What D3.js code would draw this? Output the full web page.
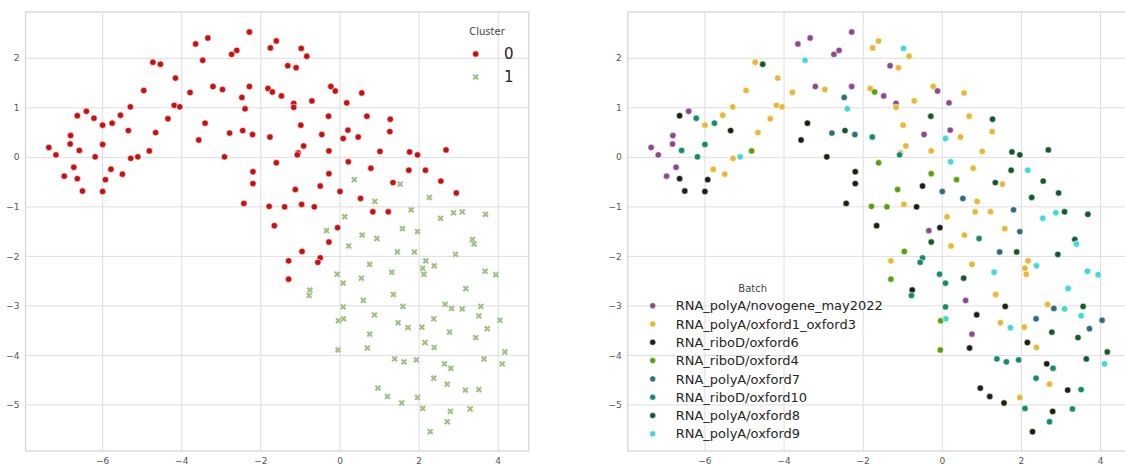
<!DOCTYPE html>
<html>
<head>
<meta charset="utf-8">
<script src="https://cdn.jsdelivr.net/npm/d3@7"></script>
<style>
  body { margin: 0; background: #fff; }
  text { font-family: "DejaVu Sans", sans-serif; }
</style>
</head>
<body>
<div id="umap-panels"></div>
<script>

const WIDTH = 1125, HEIGHT = 464;
const PANEL = { TOP: 12, BOTTOM: 451, WIDTH: 503.2 };
const PANEL_X = [25.5, 627.8];   // left edge of each subplot

const X_DOMAIN = [-7.95, 4.77];
const Y_DOMAIN = [-5.93, 2.935];

const xTicks = [-6, -4, -2, 0, 2, 4];
const yTicks = [2, 1, 0, -1, -2, -3, -4, -5];

const clusterNames = ["0", "1"];
const clusterColors = ["#c81010", "#9dbf84"];

const batchNames = [
    "RNA_polyA/novogene_may2022",
    "RNA_polyA/oxford1_oxford3",
    "RNA_riboD/oxford6",
    "RNA_riboD/oxford4",
    "RNA_polyA/oxford7",
    "RNA_riboD/oxford10",
    "RNA_polyA/oxford8",
    "RNA_polyA/oxford9"
];
const batchColors = ["#8b4a8b", "#e8b834", "#1e1e12", "#5b9f0e", "#2b6f7d", "#168a6c", "#15592b", "#40d9d3"];

// [UMAP1, UMAP2, batch index]  -- cluster 0
const cluster0 = [
    [-7.36, 0.20, 0], [-7.18, 0.05, 0], [-6.97, -0.38, 0], [-6.81, 0.44, 0], [-6.82, 0.27, 0],
    [-6.73, -0.20, 0], [-6.64, 0.84, 2], [-6.64, -0.43, 2], [-6.59, 0.14, 5], [-6.51, -0.68, 2],
    [-6.41, 0.93, 0], [-6.22, 0.79, 5], [-6.19, 0.01, 5], [-6.00, 0.65, 1], [-6.00, 0.26, 5],
    [-6.00, -0.69, 2], [-5.93, -0.45, 2], [-5.79, -0.24, 1], [-5.76, 0.69, 5], [-5.55, 0.85, 1],
    [-5.50, -0.34, 1], [-5.35, 0.54, 2], [-5.30, 1.02, 1], [-5.29, -0.02, 1], [-5.11, 0.01, 7],
    [-4.96, 1.35, 1], [-4.82, 0.13, 3], [-4.73, 1.92, 1], [-4.66, 0.50, 1], [-4.54, 1.88, 6],
    [-4.35, 0.78, 1], [-4.19, 1.05, 1], [-4.16, 1.60, 1], [-4.05, 1.02, 1], [-3.79, 1.31, 1],
    [-3.65, 2.29, 0], [-3.57, 0.35, 2], [-3.47, 1.96, 7], [-3.41, 0.69, 2], [-3.34, 2.41, 0],
    [-3.21, 1.43, 0], [-2.97, 1.37, 1], [-2.92, 0.01, 2], [-2.79, 0.49, 4], [-2.74, 2.08, 0],
    [-2.61, 2.16, 0], [-2.48, 1.21, 4], [-2.46, 0.54, 6], [-2.43, -0.93, 2], [-2.40, 0.98, 7],
    [-2.29, 2.53, 0], [-2.29, 1.43, 0], [-2.21, 0.46, 4], [-2.20, -0.29, 2], [-2.20, -0.53, 2],
    [-1.76, 2.21, 1], [-1.61, 2.35, 1], [-0.98, 2.20, 7], [-0.84, 2.04, 1], [-1.32, 1.85, 0],
    [-1.11, 1.81, 1], [-1.82, 1.39, 1], [-1.71, 1.32, 3], [-1.48, 1.24, 0], [-1.17, 1.09, 0],
    [-1.17, 1.01, 1], [-0.71, 1.14, 1], [-0.23, 1.43, 1], [-0.12, 1.34, 0], [0.17, 1.10, 0],
    [0.55, 1.30, 1], [-0.29, 0.83, 6], [0.68, 0.83, 1], [1.27, 0.77, 6], [-0.99, 0.65, 1],
    [-1.77, 0.41, 5], [-0.46, 0.46, 0], [0.20, 0.55, 0], [0.08, 0.38, 7], [0.46, 0.41, 1],
    [1.26, 0.52, 1], [-0.92, 0.23, 1], [-1.06, 0.09, 1], [-1.08, 0.05, 5], [-0.28, 0.13, 1],
    [1.01, 0.12, 1], [1.76, 0.11, 6], [1.96, 0.05, 6], [2.68, 0.15, 6], [-1.61, -0.11, 3],
    [0.21, -0.09, 7], [0.78, -0.22, 1], [1.74, -0.26, 6], [2.16, -0.26, 7], [-0.28, -0.33, 3],
    [1.34, -0.51, 6], [2.55, -0.48, 6], [-0.50, -0.58, 2], [-1.13, -0.65, 3], [0.00, -0.69, 4],
    [2.94, -0.72, 6], [0.52, -0.83, 4], [-1.79, -0.99, 3], [-1.40, -1.00, 3], [-0.97, -0.95, 1],
    [-0.65, -1.00, 2], [0.83, -1.10, 1], [1.22, -1.10, 1], [-1.66, -1.38, 2], [-0.06, -1.42, 2],
    [-0.28, -1.71, 6], [-0.96, -1.90, 3], [-1.30, -2.09, 1], [-0.50, -2.03, 5], [-0.56, -2.12, 5],
    [-1.30, -2.46, 3]
];

// [UMAP1, UMAP2, batch index]  -- cluster 1
const cluster1 = [
    [0.36, -0.45, 3], [1.52, -0.54, 1], [2.26, -0.81, 6], [0.88, -0.89, 1], [1.80, -1.06, 4],
    [0.12, -1.20, 1], [2.54, -1.23, 7], [2.87, -1.12, 7], [3.09, -1.10, 6], [3.68, -1.15, 6],
    [-0.34, -1.48, 0], [1.58, -1.44, 1], [0.56, -1.57, 1], [1.96, -1.50, 4], [0.93, -1.64, 5],
    [3.35, -1.66, 6], [3.39, -1.75, 7], [0.22, -1.79, 1], [1.45, -1.91, 4], [1.88, -1.91, 6],
    [2.92, -1.96, 6], [0.75, -2.16, 1], [2.17, -2.09, 1], [2.09, -2.24, 1], [2.12, -2.36, 1],
    [2.38, -2.19, 7], [1.31, -2.32, 7], [3.67, -2.30, 7], [3.94, -2.37, 7], [-0.07, -2.36, 5],
    [0.08, -2.54, 5], [0.54, -2.44, 6], [-0.76, -2.68, 2], [-0.78, -2.79, 5], [3.18, -2.65, 7],
    [1.35, -2.77, 1], [0.59, -2.89, 0], [0.08, -3.02, 5], [1.59, -3.01, 2], [2.66, -2.97, 1],
    [2.82, -3.05, 4], [3.09, -3.06, 7], [3.56, -3.01, 6], [0.87, -3.18, 2], [3.51, -3.20, 7],
    [-0.04, -3.30, 3], [0.09, -3.26, 7], [1.47, -3.34, 1], [1.72, -3.44, 7], [2.07, -3.43, 1],
    [2.37, -3.26, 4], [4.04, -3.29, 4], [2.77, -3.53, 6], [3.72, -3.46, 4], [0.75, -3.57, 0],
    [3.43, -3.64, 6], [2.15, -3.74, 2], [2.38, -3.84, 1], [0.69, -3.85, 2], [-0.05, -3.89, 3],
    [4.17, -3.93, 6], [3.64, -4.07, 6], [4.10, -4.17, 7], [1.38, -4.07, 5], [1.62, -4.13, 5],
    [1.93, -4.09, 5], [2.64, -4.17, 2], [2.80, -4.26, 5], [2.37, -4.46, 5], [0.96, -4.66, 2],
    [2.71, -4.58, 1], [3.17, -4.70, 2], [3.51, -4.69, 5], [1.20, -4.83, 2], [1.96, -4.85, 1],
    [1.56, -4.96, 2], [2.09, -5.07, 5], [2.79, -5.13, 2], [3.29, -5.08, 5], [2.71, -5.34, 5],
    [2.28, -5.54, 2]
];


const svg = d3.select("#umap-panels")
    .append("svg")
    .attr("width", WIDTH)
    .attr("height", HEIGHT);

svg.append("rect").attr("width", WIDTH).attr("height", HEIGHT).attr("fill", "#fff");

const y = d3.scaleLinear()
    .domain(Y_DOMAIN)
    .range([PANEL.BOTTOM, PANEL.TOP]);

const xCross = d3.symbol().type(d3.symbolCross).size(28);

function drawPanel(left) {
    const x = d3.scaleLinear()
        .domain(X_DOMAIN)
        .range([left, left + PANEL.WIDTH]);

    const g = svg.append("g");

    // grid
    g.selectAll(".vgrid").data(xTicks).enter().append("line")
        .attr("x1", d => x(d)).attr("x2", d => x(d))
        .attr("y1", PANEL.TOP).attr("y2", PANEL.BOTTOM)
        .attr("stroke", "#dedede").attr("stroke-width", 1);
    g.selectAll(".hgrid").data(yTicks).enter().append("line")
        .attr("x1", left).attr("x2", left + PANEL.WIDTH)
        .attr("y1", d => y(d)).attr("y2", d => y(d))
        .attr("stroke", "#dedede").attr("stroke-width", 1);

    // frame
    g.append("rect")
        .attr("x", left).attr("y", PANEL.TOP)
        .attr("width", PANEL.WIDTH).attr("height", PANEL.BOTTOM - PANEL.TOP)
        .attr("fill", "none").attr("stroke", "#d6d6d6").attr("stroke-width", 1.3);

    // tick labels
    const fmt = d3.format("d");
    g.selectAll(".xtick").data(xTicks).enter().append("text")
        .attr("x", d => x(d)).attr("y", PANEL.BOTTOM + 12.5)
        .attr("text-anchor", "middle")
        .style("font-size", "9px").style("fill", "#555")
        .text(fmt);
    g.selectAll(".ytick").data(yTicks).enter().append("text")
        .attr("x", left - 6).attr("y", d => y(d))
        .attr("dy", "0.35em")
        .attr("text-anchor", "end")
        .style("font-size", "9px").style("fill", "#555")
        .text(fmt);

    return { g, x };
}

// ---- left: coloured by cluster
const left = drawPanel(PANEL_X[0]);

left.g.selectAll(".c0").data(cluster0).enter().append("circle")
    .attr("cx", d => left.x(d[0])).attr("cy", d => y(d[1]))
    .attr("r", 3.2)
    .attr("fill", clusterColors[0])
    .attr("stroke", "#fff").attr("stroke-width", 0.6);

left.g.selectAll(".c1").data(cluster1).enter().append("path")
    .attr("d", xCross)
    .attr("transform", d => `translate(${left.x(d[0])},${y(d[1])}) rotate(45)`)
    .attr("fill", clusterColors[1])
    .attr("stroke", "#fff").attr("stroke-width", 0.4);

// cluster legend
const cl = left.g.append("g");
cl.append("text").attr("x", 487).attr("y", 35)
    .attr("text-anchor", "middle")
    .style("font-size", "10px").style("fill", "#444")
    .text("Cluster");
clusterNames.forEach((name, i) => {
    const yy = 54 + i * 23;
    if (i === 0) {
        cl.append("circle").attr("cx", 475.7).attr("cy", yy).attr("r", 3.2)
            .attr("fill", clusterColors[0]).attr("stroke", "#fff").attr("stroke-width", 0.6);
    } else {
        cl.append("path").attr("d", xCross)
            .attr("transform", `translate(475.7,${yy}) rotate(45)`)
            .attr("fill", clusterColors[1]).attr("stroke", "#fff").attr("stroke-width", 0.4);
    }
    cl.append("text").attr("x", 504).attr("y", yy).attr("dy", "0.36em")
        .style("font-size", "15px").style("fill", "#262626")
        .text(name);
});

// ---- right: coloured by batch
const right = drawPanel(PANEL_X[1]);
const allPoints = cluster0.concat(cluster1);

right.g.selectAll(".pt").data(allPoints).enter().append("circle")
    .attr("cx", d => right.x(d[0])).attr("cy", d => y(d[1]))
    .attr("r", 3.2)
    .attr("fill", d => batchColors[d[2]])
    .attr("stroke", "#fff").attr("stroke-width", 0.6);

// batch legend
const bl = right.g.append("g");
bl.append("text").attr("x", 752.7).attr("y", 292)
    .attr("text-anchor", "middle")
    .style("font-size", "10px").style("fill", "#444")
    .text("Batch");
batchNames.forEach((name, i) => {
    const yy = 305.7 + i * 18.3;
    bl.append("circle").attr("cx", 652.7).attr("cy", yy).attr("r", 3)
        .attr("fill", batchColors[i]).attr("stroke", "#fff").attr("stroke-width", 0.5);
    bl.append("text").attr("x", 675.7).attr("y", yy).attr("dy", "0.36em")
        .style("font-size", "13px").style("fill", "#262626")
        .text(name);
});

</script>
</body>
</html>
